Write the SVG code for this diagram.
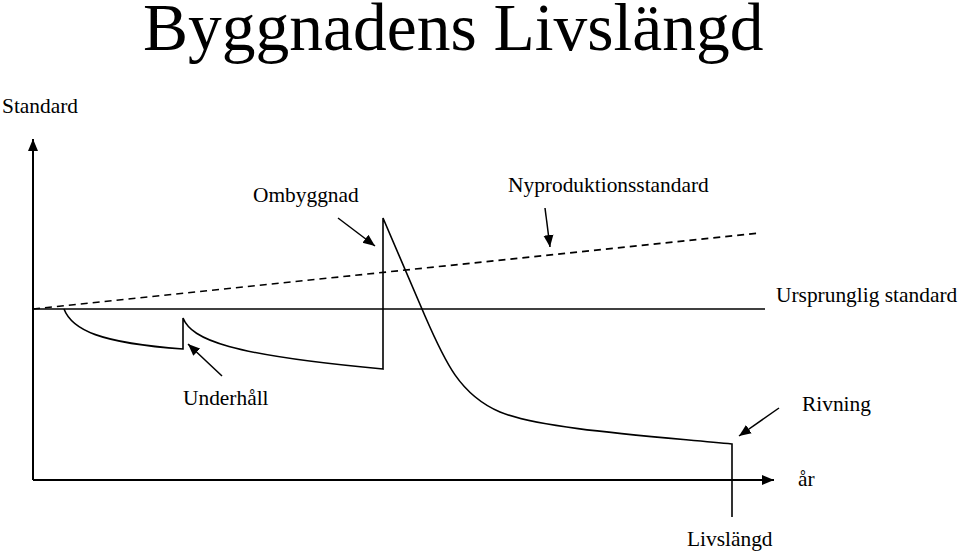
<svg xmlns="http://www.w3.org/2000/svg" width="959" height="552" viewBox="0 0 959 552">
<style>
text{font-family:"Liberation Serif","Times New Roman",serif;fill:#000}
.lbl{font-size:21.4px}
.ln{fill:none;stroke:#000;stroke-width:1.6}
.ax{fill:none;stroke:#000;stroke-width:2}
.arr{fill:none;stroke:#000;stroke-width:1.5;marker-end:url(#ah)}
</style>
<defs>
<marker id="ah" markerUnits="userSpaceOnUse" markerWidth="14" markerHeight="12" refX="12" refY="5" orient="auto" viewBox="0 0 14 10">
<path d="M0,0 L12,5 L0,10 Z" fill="#000"/>
</marker>
<marker id="axh" markerUnits="userSpaceOnUse" markerWidth="14" markerHeight="12" refX="12" refY="5" orient="auto" viewBox="0 0 14 10">
<path d="M0,0 L12,5 L0,10 Z" fill="#000"/>
</marker>
</defs>
<rect width="959" height="552" fill="#fff"/>
<g id="title"><text x="143" y="50" font-size="67.5">Byggnadens Livslängd</text></g>
<g id="axes">
<path class="ax" d="M33,480 L33,139" marker-end="url(#axh)"/>
<path class="ax" d="M33,480 L774,480" marker-end="url(#axh)"/>
</g>
<g id="ursprunglig">
<path class="ln" d="M33,309 L765,309"/>
<text class="lbl" x="776" y="302">Ursprunglig standard</text>
</g>
<g id="nyproduktion">
<path class="ln" d="M33,309 L760,233" stroke-dasharray="7,5"/>
<text class="lbl" x="508" y="192">Nyproduktionsstandard</text>
</g>
<g id="curve">
<path class="ln" d="M64,309 C72,330 100,343 183,349 L183,318 C192,340 230,355 383,369 L383,218 L425,316 C445,362 460,395 500,412 C540,429 650,436 732,444 L732,517"/>
</g>
<g id="labels">
<text class="lbl" x="2" y="113">Standard</text>
<text class="lbl" x="253" y="202">Ombyggnad</text>
<text class="lbl" x="183" y="405">Underhåll</text>
<text class="lbl" x="802" y="411">Rivning</text>
<text class="lbl" x="798" y="486">år</text>
<text class="lbl" x="687" y="546">Livslängd</text>
</g>
<g id="connectors">
<path class="arr" d="M338,218 L375,246"/>
<path class="arr" d="M545,208 L550,247"/>
<path class="arr" d="M222,376 L188,344"/>
<path class="arr" d="M779,408 L739,436"/>
</g>
</svg>
